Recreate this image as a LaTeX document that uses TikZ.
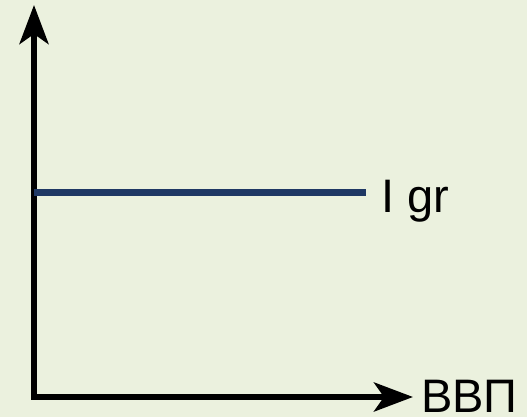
\documentclass[tikz,border=0pt]{standalone}
\usepackage{fontspec}
\setmainfont{Liberation Sans}
\usetikzlibrary{arrows.meta}
\definecolor{bg}{HTML}{EBF1DE}
\definecolor{navy}{HTML}{1F3864}
\begin{document}
\begin{tikzpicture}[x=1pt,y=1pt,
  axis/.style={line width=6pt,-{Stealth[length=39pt,width=29pt,inset=10pt]}},
  lbl/.style={inner sep=0pt,font=\fontsize{47}{52}\selectfont,anchor=base west}]
\fill[bg] (0,0) rectangle (527,417);
\useasboundingbox (0,0) rectangle (527,417);
\coordinate (O) at (34,20);
\coordinate (ytip) at (34,412);
\coordinate (xtip) at (413,20);
\coordinate (gstart) at (34,224);
\coordinate (gend) at (366,224);
\node[lbl] (igr) at (381,204) {I gr};
\node[lbl] (gdp) at (421,4) {ВВП};
\draw[axis] (O) -- (ytip);
\draw[axis] ([xshift=-3pt]O) -- (xtip);
\draw[navy,line width=7pt] (gstart) -- (gend);
\end{tikzpicture}
\end{document}
